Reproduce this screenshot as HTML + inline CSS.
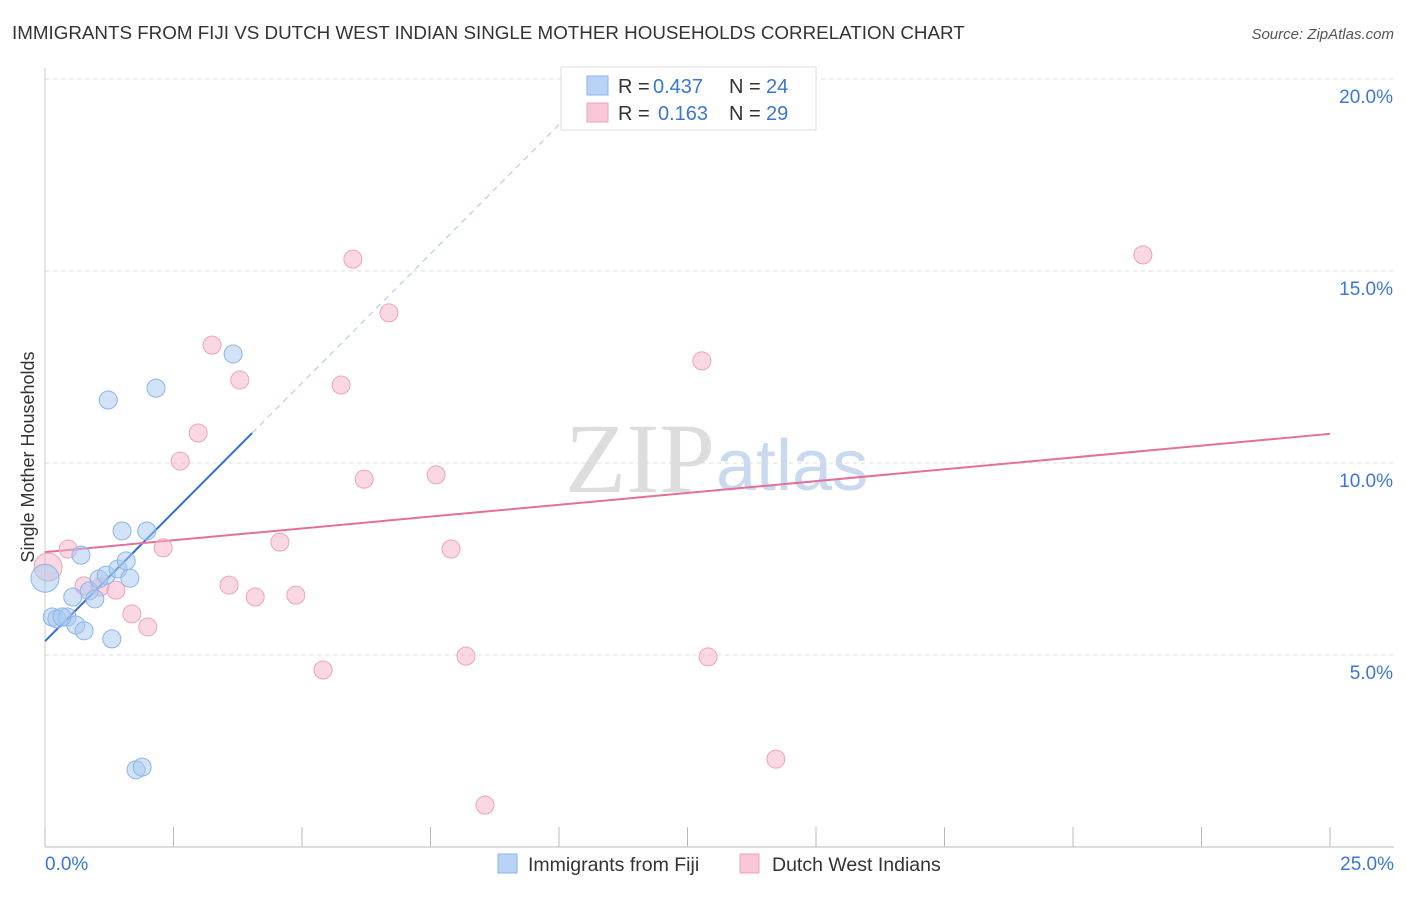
<!DOCTYPE html>
<html><head><meta charset="utf-8"><style>
body{margin:0;background:#fff;font-family:"Liberation Sans",sans-serif}
</style></head><body>
<svg id="c" width="1406" height="892" xmlns="http://www.w3.org/2000/svg" style="font-family:'Liberation Sans',sans-serif">
<text x="12" y="39" font-size="18.8" fill="#333">IMMIGRANTS FROM FIJI VS DUTCH WEST INDIAN SINGLE MOTHER HOUSEHOLDS CORRELATION CHART</text>
<text x="1394" y="39" font-size="15" fill="#555" font-style="italic" text-anchor="end">Source: ZipAtlas.com</text>
<text x="34" y="457" font-size="18" fill="#333" text-anchor="middle" transform="rotate(-90 34 457)">Single Mother Households</text>
<text x="715" y="492" font-size="100" fill="#ddd" text-anchor="end" font-family="Liberation Serif">ZIP</text>
<text x="716" y="490" font-size="72" fill="#c9d9ef">atlas</text>
<g id="grid"></g><g id="axes"></g><g id="lines"></g><g id="pts"></g>
<g>
<rect x="561" y="67" width="255" height="63" fill="#fff" stroke="#ddd"/>
<rect x="587" y="76" width="21" height="19" fill="#b8d3f5" stroke="#8ab4ea"/>
<text x="618" y="93" font-size="20" fill="#333">R =</text>
<text x="653" y="93" font-size="20" fill="#3b76d6">0.437</text>
<text x="729" y="93" font-size="20" fill="#333">N =</text>
<text x="766" y="93" font-size="20" fill="#3b76d6">24</text>
<rect x="587" y="103" width="21" height="19" fill="#f9c6d6" stroke="#eea3bb"/>
<text x="618" y="120" font-size="20" fill="#333">R =</text>
<text x="658" y="120" font-size="20" fill="#3b76d6">0.163</text>
<text x="729" y="120" font-size="20" fill="#333">N =</text>
<text x="766" y="120" font-size="20" fill="#3b76d6">29</text>
</g>
<g>
<rect x="498" y="854" width="19" height="19" fill="#b8d3f5" stroke="#8ab4ea"/>
<text x="528" y="871" font-size="19.5" fill="#333">Immigrants from Fiji</text>
<rect x="740" y="854" width="19" height="19" fill="#f9c6d6" stroke="#eea3bb"/>
<text x="772" y="871" font-size="19.5" fill="#333">Dutch West Indians</text>
</g>
</svg>
<script>
const xTicks=[0,2.5,5,7.5,10,12.5,15,17.5,20,22.5,25];
const yTicks=[5,10,15,20];
const yTickLabels=["5.0%","10.0%","15.0%","20.0%"];
const fijiX=[0,0.14,0.23,0.43,0.54,0.6,0.76,0.7,0.86,0.97,1.05,1.19,1.42,1.58,1.65,1.5,1.98,1.3,1.23,2.16,3.66,1.77,1.89,0.33];
const fijiY=[7.0,5.99,5.94,5.99,6.51,5.78,5.63,7.6,6.67,6.46,6.98,7.08,7.24,7.45,7.0,8.23,8.23,5.42,11.64,11.95,12.84,2.01,2.08,5.99];
const dutchX=[0.06,0.45,0.76,1.07,1.38,1.69,2.0,2.3,2.63,2.98,3.25,3.58,3.79,4.09,4.57,4.88,5.41,5.76,5.99,6.21,6.69,7.61,7.9,8.19,8.56,12.78,12.9,14.22,21.36];
const dutchY=[7.29,7.76,6.8,6.77,6.69,6.07,5.73,7.79,10.05,10.78,13.07,6.82,12.16,6.51,7.94,6.56,4.61,12.03,15.31,9.58,13.91,9.69,7.76,4.97,1.09,12.66,4.95,2.29,15.42];
const dutchR=[14,9,9,9,9,9,9,9,9,9,9,9,9,9,9,9,9,9,9,9,9,9,9,9,9,9,9,9,9];
const fijiR=[14,9,9,9,9,9,9,9,9,9,9,9,9,9,9,9,9,9,9,9,9,9,9,9,9,9,9,9];
const fijiTrend=[5.36,1.345,4.03];
const dutchTrend=[7.68,10.76];
const X=v=>45+v*51.4, Y=v=>847-v*38.4;
const NS="http://www.w3.org/2000/svg";
function mk(t,a,p){const e=document.createElementNS(NS,t);for(const k in a)e.setAttribute(k,a[k]);document.getElementById(p).appendChild(e);return e;}
yTicks.forEach((t,i)=>{
 const l=mk('line',{x1:45,x2:1394,y1:Y(t),y2:Y(t),stroke:'#ddd','stroke-dasharray':'4,4'},'grid');
 
 
 const tx=mk('text',{x:1393,y:Y(t)+24,'font-size':19,fill:'#3b76d6','text-anchor':'end'},'axes');
 tx.textContent=yTickLabels[i];
 
 
});
const ax=mk('line',{x1:45,x2:1394,y1:847,y2:847,stroke:'#bbb'},'axes');


const ay=mk('line',{x1:45,x2:45,y1:68,y2:847,stroke:'#ccc'},'axes');


xTicks.forEach(t=>{
 const l=mk('line',{x1:X(t),x2:X(t),y1:827,y2:847,stroke:'#bbb'},'axes');
 
 
});
[[0,"0.0%",'start',45],[25,"25.0%",'end',1394]].forEach(a=>{
 const tx=mk('text',{x:a[3],y:870,'font-size':19,fill:'#3b76d6','text-anchor':a[2]},'axes');
 tx.textContent=a[1];
 
 
});
const yf=x=>fijiTrend[0]+fijiTrend[1]*x;
const fl=mk('line',{x1:X(0),y1:Y(yf(0)),x2:X(fijiTrend[2]),y2:Y(yf(fijiTrend[2])),stroke:'#2f6fd6','stroke-width':2},'lines');


const xe=(20.3-fijiTrend[0])/fijiTrend[1];
const fd=mk('line',{x1:X(fijiTrend[2]),y1:Y(yf(fijiTrend[2])),x2:X(xe),y2:Y(yf(xe)),stroke:'#a9c3e8','stroke-width':1,'stroke-dasharray':'6,5'},'lines');


const dl=mk('line',{x1:X(0),y1:Y(dutchTrend[0]),x2:X(25),y2:Y(dutchTrend[1]),stroke:'#e4709a','stroke-width':2},'lines');


dutchX.forEach((x,i)=>{
 const c=mk('circle',{cx:X(x),cy:Y(dutchY[i]),r:dutchR[i]||9,fill:'rgba(246,178,200,0.5)',stroke:'#eea3bb'},'pts');
 
 
});
fijiX.forEach((x,i)=>{
 const c=mk('circle',{cx:X(x),cy:Y(fijiY[i]),r:fijiR[i]||9,fill:'rgba(168,199,240,0.5)',stroke:'#8ab4ea'},'pts');
 
 
});
</script>
</body></html>
